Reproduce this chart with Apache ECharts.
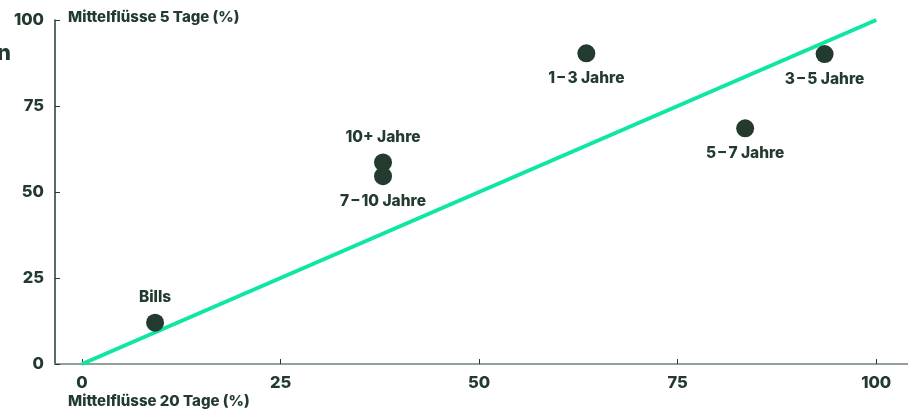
<!DOCTYPE html>
<html>
<head>
<meta charset="utf-8">
<script src="https://cdn.jsdelivr.net/npm/echarts@6/dist/echarts.min.js"></script>
<style>
  html, body { margin: 0; padding: 0; background: #fff; }
  #chart { width: 908px; height: 412px; }
</style>
</head>
<body>
<div id="chart"></div>
<script>
// Laufzeiten und Mittelflüsse
var names = ['Bills', '10+ Jahre', '7\u2009–\u200910 Jahre', '1\u2009–\u20093 Jahre', '3\u2009–\u20095 Jahre', '5\u2009–\u20097 Jahre'];
var flow20 = [9.2, 37.9, 37.9, 63.5, 93.5, 83.5];
var flow5 = [12, 58.6, 54.6, 90.3, 90.1, 68.5];
var labelPos = ['top', 'top', 'bottom', 'bottom', 'bottom', 'bottom'];
var diagX = [0, 100];
var diagY = [0, 100];
var ticks = [0, 25, 50, 75, 100];

var dark = '#233b2f';
var font = 'Inter, "Noto Sans", sans-serif';

var myChart = echarts.init(document.getElementById('chart'));

var points = names.map(function (n, i) {
    return {
        name: n,
        value: [flow20[i], flow5[i]],
        label: { position: labelPos[i], distance: labelPos[i] === 'top' ? 8 : 8 }
    };
});

myChart.setOption({
    animation: false,
    grid: { left: 55, right: 0, top: 20, bottom: 48, containLabel: false },
    xAxis: {
        type: 'value',
        min: -3.4,
        max: 104,
        splitLine: { show: false },
        axisLine: { onZero: false, lineStyle: { color: '#6e8279', width: 1.5 } },
        axisTick: { inside: true, length: 5, customValues: ticks, lineStyle: { color: dark } },
        axisLabel: { customValues: ticks, color: dark, fontFamily: font, fontWeight: 800, fontSize: 16.5, margin: 11 }
    },
    yAxis: {
        type: 'value',
        min: 0,
        max: 100,
        interval: 25,
        splitLine: { show: false },
        axisLine: { show: true, onZero: false, lineStyle: { color: dark, width: 1.5 } },
        axisTick: { show: true, inside: true, length: 5, lineStyle: { color: dark } },
        axisLabel: { color: dark, fontFamily: font, fontWeight: 800, fontSize: 16.5, margin: 11 }
    },
    graphic: [
        { type: 'text', left: 68, top: 10, style: { text: 'Mittelflüsse 5 Tage (%)', fill: dark, font: '800 15px ' + font } },
        { type: 'text', left: 68, top: 394, style: { text: 'Mittelflüsse 20 Tage (%)', fill: dark, font: '800 15px ' + font } },
        { type: 'text', left: -3, top: 42, style: { text: 'n', fill: dark, font: '800 22px ' + font } }
    ],
    series: [
        {
            type: 'line',
            data: diagX.map(function (x, i) { return [x, diagY[i]]; }),
            symbol: 'none',
            lineStyle: { color: '#0ee6a4', width: 4 },
            silent: true,
            z: 1
        },
        {
            type: 'scatter',
            data: points,
            symbolSize: 18,
            itemStyle: { color: dark, opacity: 1 },
            label: {
                show: true,
                formatter: '{b}',
                color: dark,
                fontFamily: font,
                fontWeight: 800,
                fontSize: 15.5
            },
            z: 3
        }
    ]
});
</script>
</body>
</html>
